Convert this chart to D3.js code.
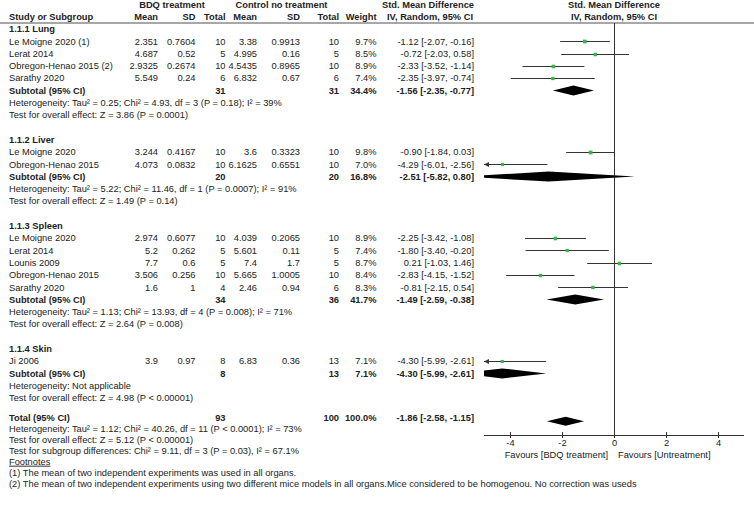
<!DOCTYPE html>
<html>
<head>
<meta charset="utf-8">
<script src="https://cdn.jsdelivr.net/npm/d3@7"></script>
<style>
body { margin: 0; background: #fff; }
svg { display: block; font-family: "Liberation Sans", Arial, sans-serif; font-size: 9.3px; }
text { fill: #222; }
.b { font-weight: bold; }
</style>
</head>
<body>
<svg id="chart" width="754" height="505"></svg>
<script>
// studies
var groupNames = ["1.1.1 Lung", "1.1.2 Liver", "1.1.3 Spleen", "1.1.4 Skin"];
var groupOf = [0, 0, 0, 0, 1, 1, 2, 2, 2, 2, 2, 3];
var studyNames = ["Le Moigne 2020 (1)", "Lerat 2014", "Obregon-Henao 2015 (2)", "Sarathy 2020",
  "Le Moigne 2020", "Obregon-Henao 2015",
  "Le Moigne 2020", "Lerat 2014", "Lounis 2009", "Obregon-Henao 2015", "Sarathy 2020",
  "Ji 2006"];
var bdqMean = [2.351, 4.687, 2.9325, 5.549, 3.244, 4.073, 2.974, 5.2, 7.7, 3.506, 1.6, 3.9];
var bdqSD = [0.7604, 0.52, 0.2674, 0.24, 0.4167, 0.0832, 0.6077, 0.262, 0.6, 0.256, 1, 0.97];
var bdqN = [10, 5, 10, 6, 10, 10, 10, 5, 5, 10, 4, 8];
var ctlMean = [3.38, 4.995, 4.5435, 6.832, 3.6, 6.1625, 4.039, 5.601, 7.4, 5.665, 2.46, 6.83];
var ctlSD = [0.9913, 0.16, 0.8965, 0.67, 0.3323, 0.6551, 0.2065, 0.11, 1.7, 1.0005, 0.94, 0.36];
var ctlN = [10, 5, 10, 6, 10, 10, 10, 5, 5, 10, 6, 13];
var weight = [9.7, 8.5, 8.9, 7.4, 9.8, 7.0, 8.9, 7.4, 8.7, 8.4, 8.3, 7.1];
var smd = [-1.12, -0.72, -2.33, -2.35, -0.90, -4.29, -2.25, -1.80, 0.21, -2.83, -0.81, -4.30];
var ciLow = [-2.07, -2.03, -3.52, -3.97, -1.84, -6.01, -3.42, -3.40, -1.03, -4.15, -2.15, -5.99];
var ciHigh = [-0.16, 0.58, -1.14, -0.74, 0.03, -2.56, -1.08, -0.20, 1.46, -1.52, 0.54, -2.61];

// subtotals
var subBdqN = [31, 20, 34, 8];
var subCtlN = [31, 20, 36, 13];
var subWeight = [34.4, 16.8, 41.7, 7.1];
var subSmd = [-1.56, -2.51, -1.49, -4.30];
var subLow = [-2.35, -5.82, -2.59, -5.99];
var subHigh = [-0.77, 0.80, -0.38, -2.61];
var subHet = [
  "Heterogeneity: Tau\u00b2 = 0.25; Chi\u00b2 = 4.93, df = 3 (P = 0.18); I\u00b2 = 39%",
  "Heterogeneity: Tau\u00b2 = 5.22; Chi\u00b2 = 11.46, df = 1 (P = 0.0007); I\u00b2 = 91%",
  "Heterogeneity: Tau\u00b2 = 1.13; Chi\u00b2 = 13.93, df = 4 (P = 0.008); I\u00b2 = 71%",
  "Heterogeneity: Not applicable"];
var subTest = [
  "Test for overall effect: Z = 3.86 (P = 0.0001)",
  "Test for overall effect: Z = 1.49 (P = 0.14)",
  "Test for overall effect: Z = 2.64 (P = 0.008)",
  "Test for overall effect: Z = 4.98 (P < 0.00001)"];

// overall
var totalN = [93, 100];
var totalWeight = 100.0;
var totalSmd = [-1.86, -2.58, -1.15];
var totalLines = [
  "Heterogeneity: Tau\u00b2 = 1.12; Chi\u00b2 = 40.26, df = 11 (P < 0.0001); I\u00b2 = 73%",
  "Test for overall effect: Z = 5.12 (P < 0.00001)",
  "Test for subgroup differences: Chi\u00b2 = 9.11, df = 3 (P = 0.03), I\u00b2 = 67.1%"];
var footnotes = [
  "(1) The mean of two independent experiments was used in all organs.",
  "(2) The mean of two independent experiments using two different mice models in all organs.Mice considered to be homogenou. No correction was useds"];

var axisTicks = [-4, -2, 0, 2, 4];
var favours = ["Favours [BDQ treatment]", "Favours [Untreatment]"];

// layout
var col = { name: 9, bm: 158, bs: 195.5, bn: 225.5, cm: 257, cs: 300, cn: 339, w: 376.5, ci: 474 };
var svg = d3.select("#chart");
var x = d3.scaleLinear().domain([-5, 5]).range([484, 744]);
var y = d3.scaleLinear().domain([0, 30]).range([29, 398]);
var yF = d3.scaleLinear().domain([0, 6]).range([417.7, 483.3]);
var axisY = 435;

function txt(px, py, s, anchor, bold) {
  return svg.append("text").attr("x", px).attr("y", py).attr("dy", "0.35em")
    .attr("text-anchor", anchor || "start").attr("class", bold ? "b" : null).text(s);
}
function fmtCI(m, l, h) {
  return m.toFixed(2) + " [" + l.toFixed(2) + ", " + h.toFixed(2) + "]";
}

// headers
txt(172, 5, "BDQ treatment", "middle", true);
txt(281.5, 5, "Control no treatment", "middle", true);
txt(428, 5, "Std. Mean Difference", "middle", true);
txt(x(0), 5, "Std. Mean Difference", "middle", true);
txt(col.name, 17, "Study or Subgroup", "start", true);
txt(col.bm, 17, "Mean", "end", true);
txt(col.bs, 17, "SD", "end", true);
txt(col.bn, 17, "Total", "end", true);
txt(col.cm, 17, "Mean", "end", true);
txt(col.cs, 17, "SD", "end", true);
txt(col.cn, 17, "Total", "end", true);
txt(col.w, 17, "Weight", "end", true);
txt(430, 17, "IV, Random, 95% CI", "middle", true);
txt(x(0), 17, "IV, Random, 95% CI", "middle", true);

svg.append("line").attr("x1", 0).attr("x2", 754).attr("y1", 23).attr("y2", 23)
  .attr("stroke", "#8a8a8a").attr("stroke-width", 1.6);

// zero line
svg.append("line").attr("x1", Math.round(x(0)) + 0.5).attr("x2", Math.round(x(0)) + 0.5)
  .attr("y1", 23).attr("y2", axisY).attr("stroke", "#333").attr("stroke-width", 1);

svg.append("clipPath").attr("id", "plotclip").append("rect")
  .attr("x", x(-5)).attr("y", 0).attr("width", x(5) - x(-5)).attr("height", 505);

var sq = d3.scaleSqrt().domain([0, 10]).range([0, 3.8]);

function diamond(m, l, h, py, hh) {
  var pts = [[x(l), py], [x(m), py - hh], [x(h), py], [x(m), py + hh]];
  svg.append("polygon").attr("clip-path", "url(#plotclip)")
    .attr("points", pts.map(function(p) { return p.join(","); }).join(" "))
    .attr("fill", "#000");
}

function ciMark(i, py) {
  var lo = Math.max(ciLow[i], -5), hi = Math.min(ciHigh[i], 5);
  var ly = Math.round(py) + 0.5;
  svg.append("line").attr("x1", x(lo)).attr("x2", x(hi)).attr("y1", ly).attr("y2", ly)
    .attr("stroke", "#333").attr("stroke-width", 1);
  if (ciLow[i] < -5) {
    var ax = x(-5);
    svg.append("path").attr("d", "M" + ax + "," + ly + "L" + (ax + 5) + "," + (ly - 2.5) + "L" + (ax + 5) + "," + (ly + 2.5) + "Z")
      .attr("fill", "#333");
  }
  if (ciHigh[i] > 5) {
    var bx = x(5);
    svg.append("path").attr("d", "M" + bx + "," + ly + "L" + (bx - 5) + "," + (ly - 2.5) + "L" + (bx - 5) + "," + (ly + 2.5) + "Z")
      .attr("fill", "#333");
  }
  var s = sq(weight[i]);
  svg.append("rect").attr("x", x(smd[i]) - s / 2).attr("y", ly - s / 2)
    .attr("width", s).attr("height", s).attr("fill", "#3cb44b");
}

// groups
var idx = 0;
groupNames.forEach(function(g, gi) {
  txt(col.name, y(idx), g, "start", true);
  idx++;
  studyNames.forEach(function(name, i) {
    if (groupOf[i] !== gi) return;
    var py = y(idx);
    txt(col.name, py, name);
    txt(col.bm, py, String(bdqMean[i]), "end");
    txt(col.bs, py, String(bdqSD[i]), "end");
    txt(col.bn, py, String(bdqN[i]), "end");
    txt(col.cm, py, String(ctlMean[i]), "end");
    txt(col.cs, py, String(ctlSD[i]), "end");
    txt(col.cn, py, String(ctlN[i]), "end");
    txt(col.w, py, weight[i].toFixed(1) + "%", "end");
    txt(col.ci, py, fmtCI(smd[i], ciLow[i], ciHigh[i]), "end");
    ciMark(i, py);
    idx++;
  });
  var sy = y(idx);
  txt(col.name, sy, "Subtotal (95% CI)", "start", true);
  txt(col.bn, sy, String(subBdqN[gi]), "end", true);
  txt(col.cn, sy, String(subCtlN[gi]), "end", true);
  txt(col.w, sy, subWeight[gi].toFixed(1) + "%", "end", true);
  txt(col.ci, sy, fmtCI(subSmd[gi], subLow[gi], subHigh[gi]), "end", true);
  diamond(subSmd[gi], subLow[gi], subHigh[gi], sy, 5);
  idx++;
  txt(col.name, y(idx), subHet[gi]);
  idx++;
  txt(col.name, y(idx), subTest[gi]);
  idx += 2;
});

// total
txt(col.name, yF(0), "Total (95% CI)", "start", true);
txt(col.bn, yF(0), String(totalN[0]), "end", true);
txt(col.cn, yF(0), String(totalN[1]), "end", true);
txt(col.w, yF(0), totalWeight.toFixed(1) + "%", "end", true);
txt(col.ci, yF(0), fmtCI(totalSmd[0], totalSmd[1], totalSmd[2]), "end", true);
diamond(totalSmd[0], totalSmd[1], totalSmd[2], yF(0) + 3.5, 4.5);
totalLines.forEach(function(s, i) { txt(col.name, yF(i + 1), s); });
txt(col.name, yF(4), "Footnotes").style("text-decoration", "underline");
footnotes.forEach(function(s, i) { txt(col.name, yF(5 + i), s); });

// axis
var ax = svg.append("g").attr("transform", "translate(0," + axisY + ")")
  .call(d3.axisBottom(x).tickValues(axisTicks).tickSize(3).tickPadding(1)
    .tickFormat(function(d) { return String(d); }));
ax.select(".domain").attr("stroke", "#333").attr("d", "M" + x(-5) + ",0.5H" + x(5));
ax.selectAll(".tick line").attr("stroke", "#333").attr("y1", -3);
ax.selectAll(".tick text").attr("fill", "#222").style("font-size", "9.3px")
  .style("font-family", "'Liberation Sans', Arial, sans-serif");

txt(x(0) - 6, 455, favours[0], "end");
txt(x(0) + 4, 455, favours[1], "start");
</script>
</body>
</html>
